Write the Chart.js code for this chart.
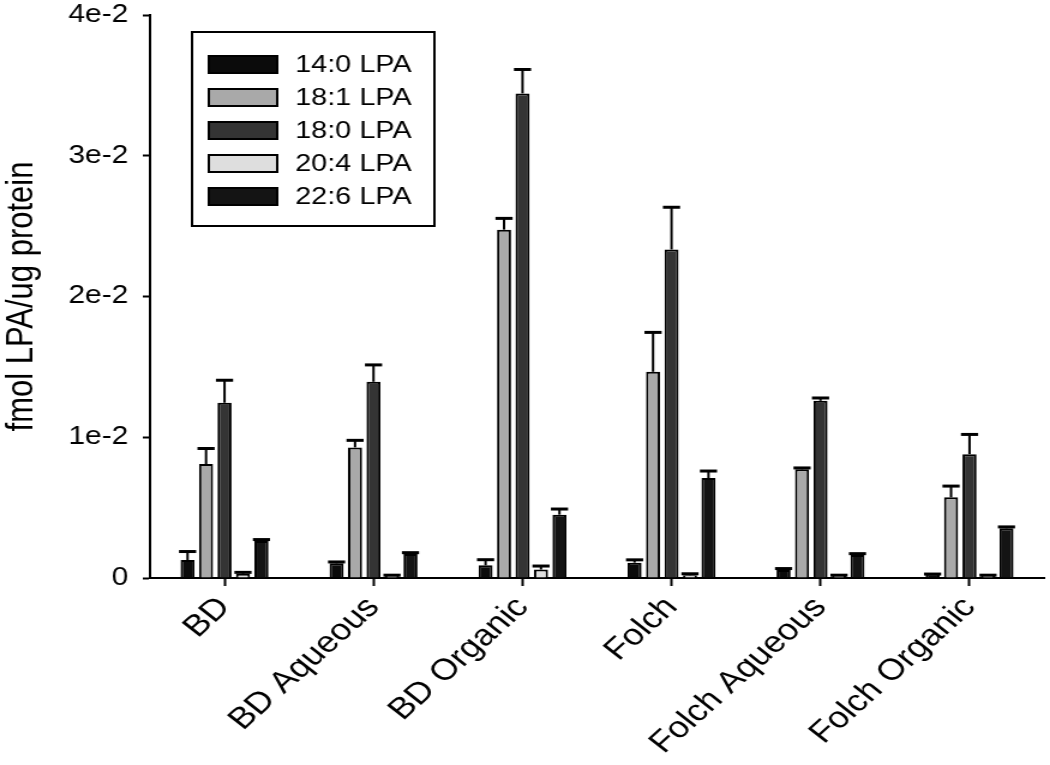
<html>
<head>
    <meta charset="UTF-8">
    <title>LPA bar chart</title>
    <script src="https://cdn.jsdelivr.net/npm/chart.js"></script>
    <style>
        body { margin: 0; background: #fff; overflow: hidden; }
        /* the source figure is stretched horizontally, so is this one */
        #chartCanvas { transform: scaleX(1.2); transform-origin: 0 0; }
    </style>
</head>
<body>
<canvas id="chartCanvas" width="875" height="765"></canvas>
<script>
    const categories = ['BD', 'BD Aqueous', 'BD Organic', 'Folch', 'Folch Aqueous', 'Folch Organic'];
    const seriesNames = ['14:0 LPA', '18:1 LPA', '18:0 LPA', '20:4 LPA', '22:6 LPA'];
    const yTickLabels = ['0', '1e-2', '2e-2', '3e-2', '4e-2'];

    // mean values
    const lpa140 = [0.00128, 0.00104, 0.0009, 0.00109, 0.00057, 0.00028];
    const lpa181 = [0.0081, 0.00928, 0.02475, 0.01465, 0.00772, 0.00573];
    const lpa180 = [0.01245, 0.01394, 0.03443, 0.02334, 0.01259, 0.0088];
    const lpa204 = [0.0003, 0.0002, 0.0006, 0.0002, 0.0002, 0.0002];
    const lpa226 = [0.00263, 0.0017, 0.0045, 0.0071, 0.00163, 0.00353];

    // upper error (sd)
    const lpa140Err = [0.0006, 0.0001, 0.0004, 0.0002, 0.0001, 0];
    const lpa181Err = [0.0011, 0.0005, 0.0008, 0.0028, 0.0001, 0.0008];
    const lpa180Err = [0.0016, 0.0012, 0.0017, 0.003, 0.0002, 0.0014];
    const lpa204Err = [0.0001, 0, 0.00025, 0.0001, 0, 0];
    const lpa226Err = [0.0001, 0.0001, 0.0004, 0.0005, 0.0001, 0.0001];

    const fills = ['#0b0b0b', '#a9a9a9', '#343434', '#dedede', '#141414'];
    const values = [lpa140, lpa181, lpa180, lpa204, lpa226];
    const errors = [lpa140Err, lpa181Err, lpa180Err, lpa204Err, lpa226Err];

    const FONT = 'Liberation Sans, Arial, sans-serif';

    const errorBars = {
        id: 'errorBars',
        afterDatasetsDraw(chart) {
            const ctx = chart.ctx;
            const y = chart.scales.y;
            ctx.save();
            ctx.strokeStyle = '#000';
            chart.data.datasets.forEach((ds, i) => {
                const meta = chart.getDatasetMeta(i);
                meta.data.forEach((bar, j) => {
                    const top = y.getPixelForValue(ds.data[j] + ds.errors[j]);
                    const half = bar.width / 2 + 1.3;
                    ctx.lineWidth = 2;
                    ctx.beginPath();
                    ctx.moveTo(bar.x, bar.y);
                    ctx.lineTo(bar.x, top);
                    ctx.stroke();
                    ctx.lineWidth = 3;
                    ctx.beginPath();
                    ctx.moveTo(bar.x - half, top);
                    ctx.lineTo(bar.x + half, top);
                    ctx.stroke();
                });
            });
            ctx.restore();
        }
    };

    const boxLegend = {
        id: 'boxLegend',
        afterDraw(chart) {
            const ctx = chart.ctx;
            const area = chart.chartArea;
            const x0 = area.left + 35, y0 = area.top + 17;
            const w = 202, h = 194, step = 33;
            ctx.save();
            ctx.strokeStyle = '#000';
            ctx.lineWidth = 2;
            ctx.fillStyle = '#fff';
            ctx.fillRect(x0, y0, w, h);
            ctx.strokeRect(x0, y0, w, h);
            ctx.font = '24px ' + FONT;
            ctx.textBaseline = 'middle';
            chart.data.datasets.forEach((ds, i) => {
                const cy = y0 + 32 + i * step;
                ctx.fillStyle = ds.backgroundColor;
                ctx.fillRect(x0 + 14, cy - 8, 57, 17);
                ctx.strokeRect(x0 + 14, cy - 8, 57, 17);
                ctx.fillStyle = '#000';
                ctx.fillText(ds.label, x0 + 86, cy + 1);
            });
            ctx.restore();
        }
    };

    new Chart(document.getElementById('chartCanvas'), {
        type: 'bar',
        data: {
            labels: categories,
            datasets: seriesNames.map((name, i) => ({
                label: name,
                data: values[i],
                errors: errors[i],
                backgroundColor: fills[i],
                borderColor: '#000',
                borderWidth: 2,
                categoryPercentage: 0.62,
                barPercentage: 0.76
            }))
        },
        options: {
            responsive: false,
            animation: false,
            layout: { padding: { top: 15, right: 5, left: 0, bottom: 0 } },
            plugins: {
                legend: { display: false },
                tooltip: { enabled: false }
            },
            scales: {
                x: {
                    grid: {
                        offset: false,
                        drawOnChartArea: false,
                        drawTicks: true,
                        tickLength: 8,
                        tickWidth: 2,
                        tickColor: '#000'
                    },
                    border: { color: '#000', width: 2 },
                    ticks: {
                        color: '#000',
                        font: { family: FONT, size: 30 },
                        minRotation: 47,
                        maxRotation: 47,
                        padding: 4
                    },
                    afterFit(scale) {
                        scale.height = 187;
                        scale.paddingLeft = 0;
                        scale.paddingRight = 0;
                    }
                },
                y: {
                    min: 0,
                    max: 0.04,
                    grid: {
                        drawOnChartArea: false,
                        drawTicks: true,
                        tickLength: 6,
                        tickWidth: 2,
                        tickColor: '#000'
                    },
                    border: { color: '#000', width: 2 },
                    ticks: {
                        stepSize: 0.01,
                        color: '#000',
                        font: { family: FONT, size: 25 },
                        padding: 12,
                        callback: (v, i) => yTickLabels[i]
                    },
                    title: {
                        display: true,
                        text: 'fmol LPA/ug protein',
                        color: '#000',
                        font: { family: FONT, size: 31 },
                        padding: { top: 0, bottom: 8 }
                    },
                    afterFit(scale) {
                        scale.width = 125;
                        scale.paddingTop = 0;
                        scale.paddingBottom = 0;
                    }
                }
            }
        },
        plugins: [errorBars, boxLegend]
    });
</script>
</body>
</html>
